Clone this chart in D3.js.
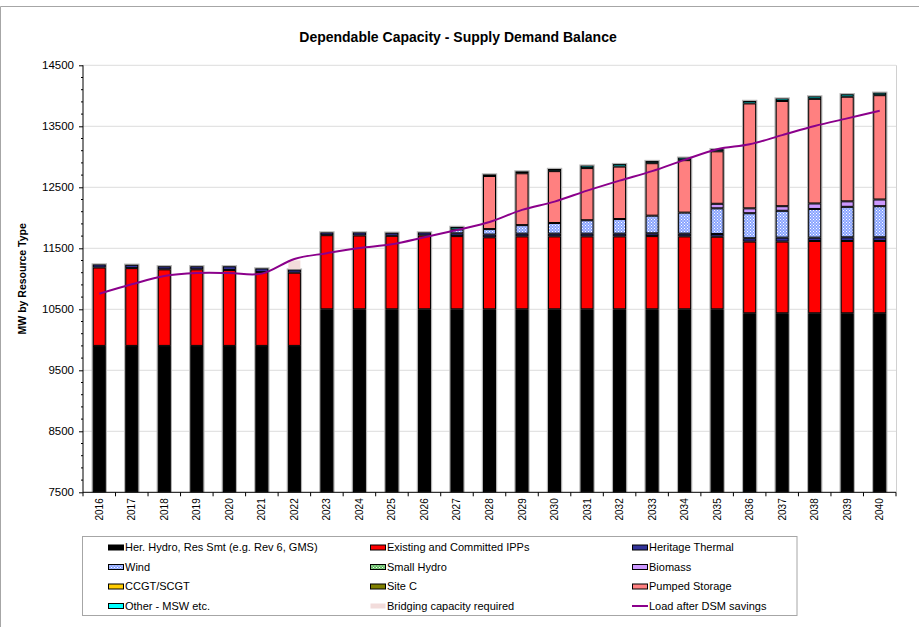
<!DOCTYPE html>
<html><head><meta charset="utf-8">
<script src="https://cdn.jsdelivr.net/npm/d3@7"></script>
<style>body{margin:0;background:#fff}svg{display:block;font-family:"Liberation Sans",Arial,sans-serif}</style>
</head><body><svg id="c" width="919" height="627"></svg>
<script>
const years = ["2016","2017","2018","2019","2020","2021","2022","2023","2024","2025","2026","2027","2028","2029","2030","2031","2032","2033","2034","2035","2036","2037","2038","2039","2040"];
const herHydro   = [9900,9900,9900,9900,9900,9900,9900,10500,10500,10500,10500,10500,10500,10500,10500,10500,10500,10500,10500,10500,10435,10435,10435,10435,10435];
const ipps       = [1285,1275,1255,1255,1245,1210,1200,1215,1210,1205,1210,1200,1180,1195,1195,1195,1195,1200,1195,1190,1175,1175,1185,1185,1185];
const herThermal = [50,55,50,50,60,60,50,45,50,50,50,45,45,45,45,45,45,45,45,45,55,65,55,60,60];
const wind       = [0,0,0,0,0,0,0,0,0,0,0,65,90,140,175,220,240,290,345,420,410,440,470,500,510];
const smallHydro = [0,0,0,0,0,0,0,0,0,0,0,0,0,0,0,0,0,0,0,0,0,0,0,0,0];
const biomass    = [0,0,0,0,0,0,0,0,0,0,0,0,0,0,0,0,0,0,0,75,80,75,90,90,110];
const ccgt       = [0,0,0,0,0,0,0,0,0,0,0,0,0,0,0,0,0,0,0,0,0,0,0,0,0];
const siteC      = [0,0,0,0,0,0,0,0,0,0,0,0,0,0,0,0,0,0,0,0,0,0,0,0,0];
const pumped     = [0,0,0,0,0,0,0,0,0,0,0,0,870,850,850,855,860,860,860,860,1720,1725,1715,1715,1710];
const otherMSW   = [0,0,0,0,0,0,0,0,0,0,0,40,25,30,35,40,40,35,40,35,40,40,40,40,40];
const bridging   = [0,0,0,0,0,0,160,0,0,0,0,0,0,0,0,0,0,0,0,0,0,0,0,0,0];
const load       = [10755,10910,11045,11095,11095,11085,11325,11420,11505,11565,11680,11800,11930,12130,12265,12445,12610,12765,12950,13125,13205,13355,13505,13630,13755];
const yTickValues = [7500,8500,9500,10500,11500,12500,13500,14500];
const seriesNames = ["Her. Hydro, Res Smt (e.g. Rev 6, GMS)","Existing and Committed IPPs","Heritage Thermal","Wind","Small Hydro","Biomass","CCGT/SCGT","Site C","Pumped Storage","Other - MSW etc.","Bridging capacity required"];
const lineName = "Load after DSM savings";
const chartTitle = "Dependable Capacity - Supply Demand Balance";
const yTitle = "MW by Resource Type";

const seriesData = [herHydro, ipps, herThermal, wind, smallHydro, biomass, ccgt, siteC, pumped, otherMSW, bridging];
const fills = ["#000000","#ff0000","#333399","url(#pWind)","url(#pSmall)","#cc99ff","#ffcc00","#808000","#ff8080","#00ffff","#f2dcdb"];
const strokes = ["#000","#000","#000","#000","#000","#000","#000","#000","#000","#000","none"];

const svg = d3.select("#c");
const defs = svg.append("defs");
function checker(id, bg, fg){
  const p = defs.append("pattern").attr("id", id).attr("patternUnits","userSpaceOnUse").attr("width",3).attr("height",3);
  p.append("rect").attr("width",3).attr("height",3).attr("fill",bg);
  p.append("rect").attr("x",0).attr("y",0).attr("width",1).attr("height",1).attr("fill",fg);
  p.append("rect").attr("x",1.5).attr("y",1.5).attr("width",1).attr("height",1).attr("fill",fg);
}
checker("pWind","#8aa4ff","#ffffff");
checker("pSmall","#66bb66","#e8ffe8");

svg.append("rect").attr("width",919).attr("height",627).attr("fill","#fff");
svg.append("path").attr("d","M0.5,640V6.5H930").attr("fill","none").attr("stroke","#a6a6a6");

const pL = 83, pR = 896, pT = 65.3, pB = 492.3;
const yMin = yTickValues[0];
const x = d3.scaleBand().domain(years).range([pL,pR]).paddingInner(0.6).paddingOuter(0.3);
const y = d3.scaleLinear().domain([yMin,14500]).range([pB, pT]).clamp(true);
const bw = x.bandwidth();

svg.append("g").selectAll("line").data(yTickValues.filter(v=>v>yMin)).join("line")
  .attr("x1",pL).attr("x2",pR).attr("y1",d=>y(d)).attr("y2",d=>y(d))
  .attr("stroke","#dcdcdc").attr("stroke-width",1);
svg.append("line").attr("x1",pR+0.5).attr("x2",pR+0.5).attr("y1",pT).attr("y2",pB).attr("stroke","#d0d0d0");

const rows = years.map((yr,i)=>{ const o={year:yr}; seriesNames.forEach((n,k)=>o[n]=seriesData[k][i]); return o; });
const stacked = d3.stack().keys(seriesNames)(rows);

const solidTop = years.map((yr,i)=>stacked[stacked.length-2][i][1]);
svg.append("g").selectAll("rect").data(years).join("rect")
  .attr("x",d=>x(d)-1.2).attr("width",bw+2.4)
  .attr("y",(d,i)=>y(solidTop[i])-1.2).attr("height",(d,i)=>y(yMin)-y(solidTop[i])+1.2)
  .attr("fill","#b4b4b4");

const gBars = svg.append("g");
stacked.forEach((s,k)=>{
  gBars.append("g").selectAll("rect").data(s.filter(d=>d[1]-d[0]>0)).join("rect")
    .attr("x",d=>x(d.data.year)+0.5).attr("width",bw-1)
    .attr("y",d=>y(d[1])+0.5).attr("height",d=>Math.max(0,y(d[0])-y(d[1])-1))
    .attr("fill",fills[k]).attr("stroke",strokes[k]).attr("stroke-width",1);
});

const line = d3.line().x((d,i)=>x(years[i])+bw/2).y(d=>y(d)).curve(d3.curveCardinal.tension(0));
svg.append("path").datum(load).attr("d",line).attr("fill","none").attr("stroke","#8b008b").attr("stroke-width",2);

const yAxis = d3.axisLeft(y).tickValues(yTickValues).tickSize(4).tickPadding(5).tickFormat(d3.format("d"));
const ga = svg.append("g").attr("transform",`translate(${pL},0)`).call(yAxis);
ga.select(".domain").attr("stroke","#000").attr("d",`M0,${pT}V${pB}`);
ga.selectAll("text").attr("font-size","11.5px").attr("fill","#000").attr("font-family","'Liberation Sans',Arial,sans-serif");
const minor = d3.range(yMin,14501,200).filter(v=>!yTickValues.includes(v));
ga.append("g").selectAll("line").data(minor).join("line").attr("x1",-2).attr("x2",0).attr("y1",d=>y(d)).attr("y2",d=>y(d)).attr("stroke","#000");

svg.append("line").attr("x1",pL).attr("x2",pR).attr("y1",pB).attr("y2",pB).attr("stroke","#000");
const step = x.step();
svg.append("g").selectAll("line").data(d3.range(years.length+1)).join("line")
  .attr("x1",i=>pL+i*step).attr("x2",i=>pL+i*step).attr("y1",pB).attr("y2",pB+4).attr("stroke","#000");
svg.append("g").selectAll("text").data(years).join("text")
  .attr("transform",d=>`translate(${x(d)+bw/2},${pB+6}) rotate(-90)`)
  .attr("text-anchor","end").attr("dy","0.35em").attr("font-size","10px").text(d=>d);

svg.append("text").attr("x",458).attr("y",42).attr("text-anchor","middle").attr("font-weight","bold").attr("font-size","14px").text(chartTitle);
svg.append("text").attr("transform",`translate(26,${(pT+pB)/2}) rotate(-90)`).attr("text-anchor","middle")
  .attr("font-weight","bold").attr("font-size","10.5px").text(yTitle);

svg.append("rect").attr("x",82.5).attr("y",536.5).attr("width",714.5).attr("height",79).attr("fill","none").attr("stroke","#a6a6a6");
const colX = [108,370,632], rowY = [547.5,567,586.5,606];
const legendItems = seriesNames.map((n,k)=>({name:n, fill:fills[k], stroke:strokes[k], type:"rect"}));
legendItems.push({name:lineName, type:"line"});
const lg = svg.append("g").selectAll("g").data(legendItems).join("g")
  .attr("transform",(d,i)=>`translate(${colX[i%3]},${rowY[Math.floor(i/3)]})`);
lg.filter(d=>d.type==="rect").append("rect").attr("x",0.5).attr("y",-2.5).attr("width",15).attr("height",5)
  .attr("fill",d=>d.fill).attr("stroke",d=>d.stroke);
lg.filter(d=>d.type==="line").append("line").attr("x1",0).attr("x2",16).attr("y1",0).attr("y2",0).attr("stroke","#8b008b").attr("stroke-width",2);
lg.append("text").attr("x",17).attr("dy","0.35em").attr("font-size","11px").text(d=>d.name);
</script></body></html>
